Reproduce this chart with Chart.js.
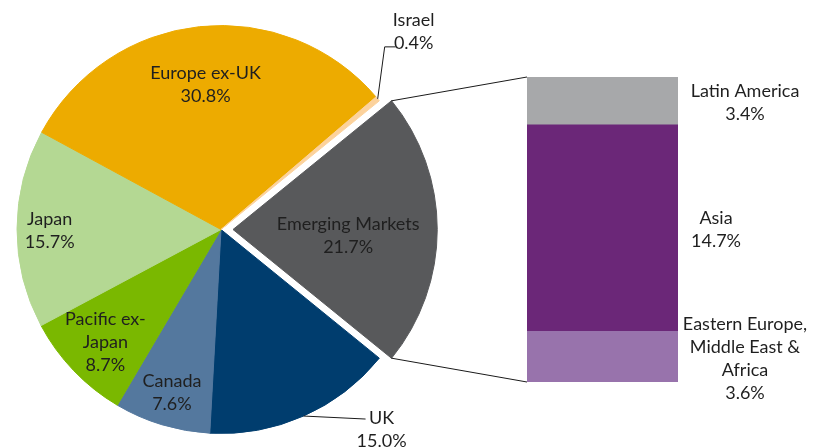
<!DOCTYPE html>
<html><head><meta charset="utf-8">
<script src="https://cdn.jsdelivr.net/npm/chart.js@4/dist/chart.umd.min.js"></script>
<style>
html,body{margin:0;padding:0;background:#fff;width:821px;height:447px;overflow:hidden}
canvas{position:absolute;left:0;top:0}
</style></head>
<body>
<canvas id="pie" width="821" height="447"></canvas>
<canvas id="bar" width="821" height="447"></canvas>
<script>
// ---- data ----
const regions = ['Emerging Markets', 'UK', 'Canada', 'Pacific ex-Japan', 'Japan', 'Europe ex-UK', 'Israel'];
const regionLines = [['Emerging Markets'], ['UK'], ['Canada'], ['Pacific ex-', 'Japan'], ['Japan'], ['Europe ex-UK'], ['Israel']];
const weights = [21.7, 15.0, 7.6, 8.7, 15.7, 30.8, 0.4];
const emRegions = ['Eastern Europe, Middle East & Africa', 'Asia', 'Latin America'];
const emLines = [['Eastern Europe,', 'Middle East &', 'Africa'], ['Asia'], ['Latin America']];
const emWeights = [3.6, 14.7, 3.4];

// ---- styles ----
const sliceColors = ['#58595B', '#003D6E', '#54789E', '#7AB800', '#B4D893', '#EDAB00', '#FCD29C'];
const emColors = ['#9873AC', '#6B2778', '#A7A8AA'];
const FONT = '18px Lato';
const TEXT = '#1f1f1f';
const LINE_H = 23;
const TEXT_DY = 1.5;
// radial position of inside labels (fraction of radius), null = outside with leader
const labelFrac = [0.565, null, 0.83, 0.785, 0.84, 0.72, null];
const labelAngleAdj = [2.3, 0, 0, 0, 0, 0, 0]; // degrees
// leader lines for outside labels: elbow points relative to edge point, label offset relative to last point
const leaders = {
  1: {pts: [[62, 3]], label: [16, 9]},
  6: {pts: [[7, -52], [18, -52]], label: [18, -17]}
};
const emLabelDx = [67, 38, 67];

function drawBlock(ctx, lines, x, y) {
  ctx.save();
  ctx.font = FONT;
  ctx.fillStyle = TEXT;
  ctx.textAlign = 'center';
  ctx.textBaseline = 'middle';
  const y0 = y + TEXT_DY - (lines.length - 1) * LINE_H / 2;
  lines.forEach((t, k) => ctx.fillText(t, x, y0 + k * LINE_H));
  ctx.restore();
}

function arcGeom(arc) {
  const p = arc.getProps(['x', 'y', 'startAngle', 'endAngle', 'outerRadius'], true);
  const mid = (p.startAngle + p.endAngle) / 2;
  const off = (arc.options.offset || 0) / 4;
  return {cx: p.x + Math.cos(mid) * off, cy: p.y + Math.sin(mid) * off, r: p.outerRadius,
          start: p.startAngle, end: p.endAngle, mid};
}

const pieLabels = {
  id: 'pieLabels',
  afterDatasetsDraw(chart) {
    const ctx = chart.ctx;
    const meta = chart.getDatasetMeta(0);
    const vals = chart.data.datasets[0].data;
    meta.data.forEach((arc, i) => {
      const g = arcGeom(arc);
      const lines = regionLines[i].concat([vals[i].toFixed(1) + '%']);
      if (labelFrac[i] != null) {
        const rr = g.r * labelFrac[i];
        const a = g.mid + labelAngleAdj[i] * Math.PI / 180;
        drawBlock(ctx, lines, g.cx + Math.cos(a) * rr, g.cy + Math.sin(a) * rr);
      } else {
        const L = leaders[i];
        const sx = g.cx + Math.cos(g.mid) * g.r, sy = g.cy + Math.sin(g.mid) * g.r;
        ctx.save();
        ctx.strokeStyle = '#1a1a1a';
        ctx.lineWidth = 1;
        ctx.beginPath();
        ctx.moveTo(sx, sy);
        let lx = sx, ly = sy;
        L.pts.forEach(q => { lx = sx + q[0]; ly = sy + q[1]; ctx.lineTo(lx, ly); });
        ctx.stroke();
        ctx.restore();
        drawBlock(ctx, lines, lx + L.label[0], ly + L.label[1]);
      }
    });
  }
};

const pieChart = new Chart(document.getElementById('pie'), {
  type: 'pie',
  data: {
    labels: regions,
    datasets: [{
      data: weights,
      backgroundColor: sliceColors,
      borderColor: sliceColors,
      borderWidth: 1,
      offset: [48, 0, 0, 0, 0, 0, 0]
    }]
  },
  options: {
    responsive: false,
    animation: false,
    rotation: 90 - (weights[0] / weights.reduce((a, b) => a + b, 0)) * 180,
    radius: 204,
    layout: {padding: {left: 10, right: 389, top: 14, bottom: 2}},
    plugins: {legend: {display: false}, tooltip: {enabled: false}}
  },
  plugins: [pieLabels]
});

const barExtras = {
  id: 'barExtras',
  afterDatasetsDraw(chart) {
    const ctx = chart.ctx;
    // labels
    chart.data.datasets.forEach((ds, i) => {
      const el = chart.getDatasetMeta(i).data[0];
      const right = el.x + el.width / 2;
      const cy = (el.y + el.base) / 2;
      drawBlock(ctx, emLines[i].concat([ds.data[0].toFixed(1) + '%']), right + emLabelDx[i], cy);
    });
    // connectors from exploded slice
    const g = arcGeom(pieChart.getDatasetMeta(0).data[0]);
    const topEl = chart.getDatasetMeta(chart.data.datasets.length - 1).data[0];
    const botEl = chart.getDatasetMeta(0).data[0];
    const left = topEl.x - topEl.width / 2;
    ctx.save();
    ctx.strokeStyle = '#1a1a1a';
    ctx.lineWidth = 1;
    ctx.beginPath();
    ctx.moveTo(g.cx + Math.cos(g.start) * g.r, g.cy + Math.sin(g.start) * g.r);
    ctx.lineTo(left, topEl.y);
    ctx.moveTo(g.cx + Math.cos(g.end) * g.r, g.cy + Math.sin(g.end) * g.r);
    ctx.lineTo(left, botEl.base);
    ctx.stroke();
    ctx.restore();
  }
};

new Chart(document.getElementById('bar'), {
  type: 'bar',
  data: {
    labels: ['Emerging Markets'],
    datasets: emWeights.map((v, i) => ({
      label: emRegions[i],
      data: [v],
      backgroundColor: emColors[i],
      borderWidth: 0,
      barPercentage: 1,
      categoryPercentage: 1
    }))
  },
  options: {
    responsive: false,
    animation: false,
    layout: {padding: {left: 527, right: 143, top: 77, bottom: 65}},
    scales: {
      x: {display: false, stacked: true},
      y: {display: false, stacked: true, min: 0, max: emWeights.reduce((a, b) => a + b, 0)}
    },
    plugins: {legend: {display: false}, tooltip: {enabled: false}}
  },
  plugins: [barExtras]
});
</script>
</body></html>
